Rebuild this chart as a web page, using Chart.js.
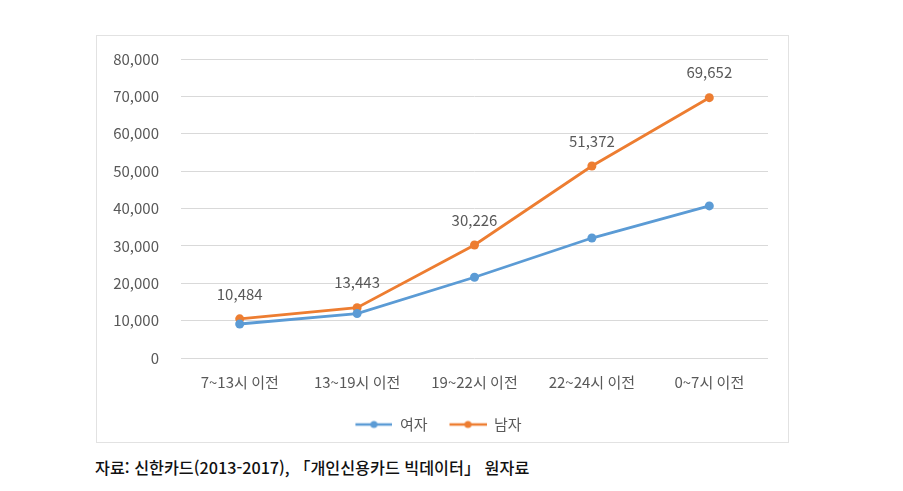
<!DOCTYPE html>
<html lang="ko">
<head>
<meta charset="utf-8">
<script src="https://cdn.jsdelivr.net/npm/chart.js@4/dist/chart.umd.min.js"></script>
<style>
  body { margin: 0; background: #fff; width: 903px; height: 491px; position: relative; overflow: hidden; }
  #box { position: absolute; left: 96px; top: 35px; width: 693px; height: 408px; border: 1px solid #e2e2e2; box-sizing: border-box; }
  #caption { position: absolute; left: 95px; top: 455px; font-family: "Noto Sans CJK KR", sans-serif; font-size: 16.2px; font-weight: 500; color: #111; white-space: nowrap; }
</style>
</head>
<body>
<div id="box"><canvas id="timeChart" width="691" height="406"></canvas></div>
<div id="caption">자료: 신한카드(2013-2017), 「개인신용카드 빅데이터」 원자료</div>
<script>
// categories and series
const timeSlots = ['7~13시 이전', '13~19시 이전', '19~22시 이전', '22~24시 이전', '0~7시 이전'];
const women = [9100, 11900, 21600, 32100, 40700];
const men = [10484, 13443, 30226, 51372, 69652];
const yTicks = [0, 10000, 20000, 30000, 40000, 50000, 60000, 70000, 80000];

const BLUE = '#5b9bd5';
const ORANGE = '#ed7d31';
const FONT = '"Noto Sans CJK KR", sans-serif';

// line-with-dot marker for the legend, like Excel (12px blank on the left as spacing)
function legendMarker(color) {
  const c = document.createElement('canvas');
  c.width = 49; c.height = 10;
  const g = c.getContext('2d');
  g.strokeStyle = color; g.lineWidth = 2.5;
  g.beginPath(); g.moveTo(12, 5); g.lineTo(49, 5); g.stroke();
  g.fillStyle = color;
  g.beginPath(); g.arc(30.5, 5, 3.5, 0, Math.PI * 2); g.fill();
  return c;
}

// value labels above the 남자 points
const valueLabels = {
  id: 'valueLabels',
  afterDatasetsDraw(chart) {
    const ctx = chart.ctx;
    const meta = chart.getDatasetMeta(1);
    ctx.save();
    ctx.font = '15px ' + FONT;
    ctx.fillStyle = '#595959';
    ctx.textAlign = 'center';
    ctx.textBaseline = 'middle';
    meta.data.forEach((pt, i) => {
      ctx.fillText(men[i].toLocaleString('en-US'), pt.x, pt.y - 25);
    });
    ctx.restore();
  }
};

new Chart(document.getElementById('timeChart'), {
  type: 'line',
  data: {
    labels: timeSlots,
    datasets: [
      { label: '여자', data: women, borderColor: BLUE, backgroundColor: BLUE, borderWidth: 2.8, pointRadius: 4.5, pointBorderWidth: 0 },
      { label: '남자', data: men, borderColor: ORANGE, backgroundColor: ORANGE, borderWidth: 2.8, pointRadius: 4.5, pointBorderWidth: 0 }
    ]
  },
  options: {
    responsive: false,
    animation: false,
    layout: { padding: { top: 23, right: 20, bottom: 0, left: 0 } },
    scales: {
      x: {
        offset: true,
        grid: { display: false },
        border: { display: false },
        ticks: { color: '#595959', font: { family: FONT, size: 15 }, padding: 7, maxRotation: 0 },
        afterFit(scale) { scale.height = 49; }
      },
      y: {
        min: 0, max: 80000,
        afterBuildTicks(scale) { scale.ticks = yTicks.map(v => ({ value: v })); },
        grid: { color: '#d9d9d9', drawTicks: false },
        border: { display: false },
        ticks: {
          color: '#595959', font: { family: FONT, size: 15 }, padding: 22,
          callback: v => v.toLocaleString('en-US')
        },
        afterFit(scale) {
          scale.width = 84;
          // tick padding would otherwise push the plot down
          scale.paddingTop = 0;
          scale.paddingBottom = 0;
        }
      }
    },
    plugins: {
      legend: {
        position: 'bottom',
        labels: {
          usePointStyle: true,
          pointStyleWidth: 49,
          color: '#595959',
          font: { family: FONT, size: 15 },
          padding: 10,
          generateLabels(chart) {
            const items = Chart.defaults.plugins.legend.labels.generateLabels(chart);
            items.forEach((it, i) => { it.pointStyle = legendMarker(i === 0 ? BLUE : ORANGE); });
            return items;
          }
        }
      },
      tooltip: { enabled: false }
    }
  },
  plugins: [valueLabels]
});
</script>
</body>
</html>
